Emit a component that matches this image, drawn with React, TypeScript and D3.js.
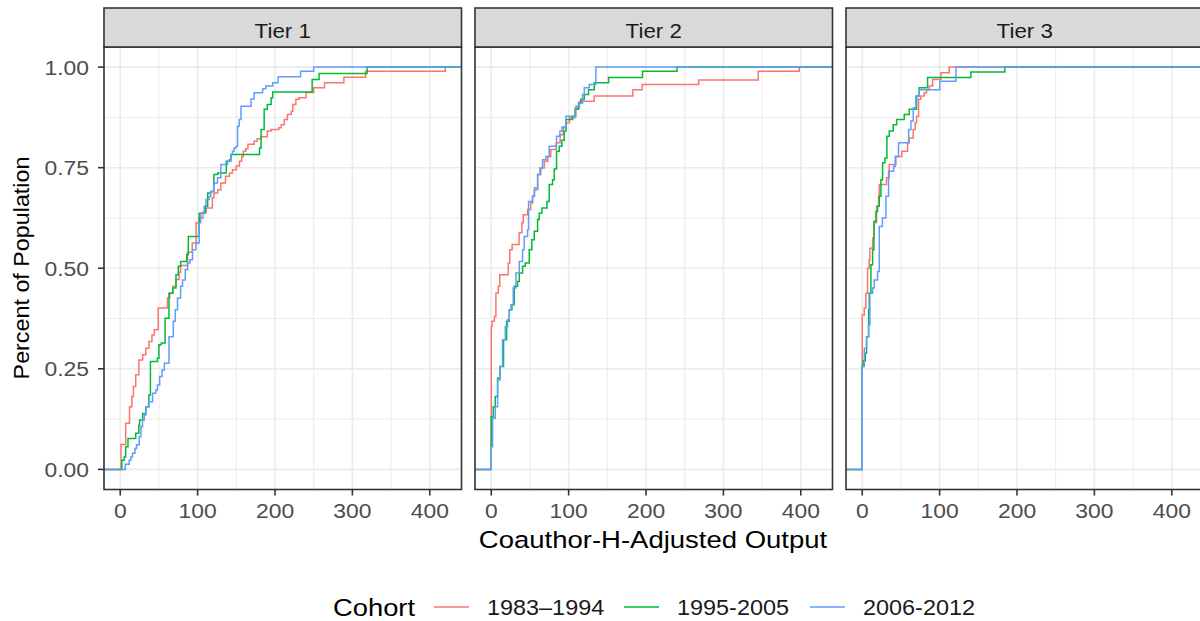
import React from 'react';
import * as d3 from 'd3';

const tierLabels = ['Tier 1', 'Tier 2', 'Tier 3'];
const cohortLabels = ['1983–1994', '1995-2005', '2006-2012'];
const cohortColors = ['#F8766D', '#00BA38', '#619CFF'];
const xTickValues = [0, 100, 200, 300, 400];
const xMinorValues = [50, 150, 250, 350];
const yTickValues = [0, 0.25, 0.5, 0.75, 1];
const yMinorValues = [0.125, 0.375, 0.625, 0.875];

// ecdf steps: [output, share of population after the step]
const tier1Early = [
  [1, 0.062], [7, 0.115], [12, 0.156], [15, 0.181], [17, 0.206], [20, 0.235], [24, 0.272], [29, 0.285],
  [33, 0.301], [37, 0.318], [41, 0.334], [44, 0.347], [49, 0.401], [61, 0.426], [64, 0.438], [68, 0.455],
  [72, 0.472], [76, 0.49], [78, 0.507], [87, 0.54], [93, 0.563], [98, 0.613], [102, 0.625], [107, 0.64],
  [111, 0.65], [119, 0.675], [121, 0.687], [126, 0.695], [130, 0.712], [136, 0.729], [141, 0.737],
  [145, 0.745], [150, 0.754], [154, 0.766], [157, 0.778], [159, 0.791], [162, 0.797], [165, 0.808],
  [173, 0.816], [177, 0.822], [182, 0.827], [190, 0.841], [195, 0.845], [205, 0.849], [208, 0.857],
  [212, 0.87], [216, 0.882], [221, 0.89], [223, 0.907], [227, 0.92], [231, 0.924], [240, 0.937],
  [250, 0.949], [264, 0.961], [289, 0.975], [317, 0.99], [420, 1],
];
const tier1Mid = [
  [2, 0.023], [5, 0.031], [7, 0.056], [10, 0.077], [20, 0.09], [24, 0.11], [25, 0.123], [29, 0.139],
  [33, 0.156], [37, 0.185], [39, 0.268], [48, 0.276], [50, 0.31], [53, 0.314], [58, 0.376], [63, 0.438],
  [68, 0.451], [72, 0.484], [75, 0.505], [78, 0.517], [86, 0.534], [88, 0.579], [102, 0.637],
  [110, 0.654], [113, 0.687], [117, 0.691], [121, 0.733], [126, 0.737], [137, 0.766], [141, 0.77],
  [143, 0.783], [180, 0.799], [182, 0.845], [186, 0.895], [190, 0.907], [195, 0.924], [197, 0.938],
  [248, 0.969], [257, 0.984], [319, 1],
];
const tier1Late = [
  [6.5, 0.013], [11.6, 0.023], [13.8, 0.031], [15.9, 0.04], [19, 0.052], [21, 0.061], [24.5, 0.081],
  [26.7, 0.106], [28.8, 0.123], [31, 0.135], [33.2, 0.156], [36.6, 0.168], [41.8, 0.189], [46, 0.197],
  [48, 0.21], [51, 0.231], [54, 0.247], [57, 0.264], [63, 0.33], [68.5, 0.368], [71, 0.397], [74, 0.426],
  [78, 0.455], [80.5, 0.471], [84, 0.496], [87, 0.513], [90, 0.521], [93.4, 0.546], [97.8, 0.563],
  [102, 0.613], [104, 0.637], [108.5, 0.654], [110.7, 0.671], [115, 0.679], [117, 0.691], [121, 0.712],
  [125.7, 0.725], [130, 0.758], [138.6, 0.766], [143, 0.783], [145, 0.791], [147, 0.799], [150, 0.803],
  [151.6, 0.853], [153.7, 0.87], [156, 0.903], [169, 0.921], [173, 0.936], [184, 0.946], [188, 0.953],
  [197, 0.961], [204, 0.976], [233, 0.99], [250, 1],
];

const tier2Early = [
  [0, 0.355], [1, 0.368], [4, 0.38], [6, 0.438], [9, 0.455], [11, 0.484], [22, 0.513], [24, 0.546],
  [27, 0.559], [36, 0.588], [39.6, 0.613], [41.3, 0.633], [47, 0.646], [51, 0.662], [53.4, 0.679],
  [56, 0.7], [60, 0.733], [64, 0.749], [68.5, 0.766], [73, 0.778], [77, 0.795], [84, 0.812], [89, 0.832],
  [93, 0.849], [97, 0.862], [101, 0.874], [108.5, 0.899], [114, 0.915], [133, 0.928], [183, 0.944],
  [195, 0.957], [268, 0.968], [345, 0.99], [398, 1],
];
const tier2Mid = [
  [0, 0.131], [2.6, 0.156], [5.2, 0.181], [8.2, 0.227], [11.2, 0.256], [15.9, 0.322], [19.8, 0.368],
  [23.3, 0.397], [26.7, 0.409], [29.7, 0.455], [34, 0.467], [36.2, 0.488], [40.5, 0.505], [43.9, 0.513],
  [49.1, 0.546], [52.5, 0.571], [55.6, 0.592], [59.9, 0.621], [62, 0.637], [65.5, 0.65], [72, 0.666],
  [74.9, 0.708], [79.2, 0.72], [81.4, 0.747], [84.4, 0.791], [87.9, 0.803], [91.3, 0.818], [94.3, 0.841],
  [96.5, 0.87], [105.1, 0.878], [108.5, 0.895], [112.8, 0.911], [115.9, 0.92], [120.2, 0.932],
  [125.7, 0.944], [133.1, 0.961], [151.6, 0.974], [195.5, 0.99], [240, 1],
];
const tier2Late = [
  [0, 0.056], [1.7, 0.127], [5.2, 0.156], [8.2, 0.222], [11.2, 0.256], [14.6, 0.322], [18.1, 0.355],
  [21.1, 0.372], [23.3, 0.397], [25.4, 0.409], [28.4, 0.451], [31.9, 0.488], [36.2, 0.517], [40.5, 0.546],
  [42.6, 0.579], [46.9, 0.596], [48.2, 0.666], [53.4, 0.679], [55.6, 0.695], [59.9, 0.733], [62.9, 0.749],
  [66.3, 0.77], [70.6, 0.778], [74.9, 0.803], [84.4, 0.828], [88.7, 0.841], [91.3, 0.851], [96.5, 0.878],
  [109.4, 0.903], [113.7, 0.911], [118, 0.932], [120.2, 0.949], [126.6, 0.957], [135.2, 1],
];

const tier3Early = [
  [0, 0.384], [2.6, 0.401], [4.7, 0.438], [6.9, 0.5], [9, 0.521], [9.9, 0.55], [13.4, 0.575],
  [15.5, 0.613], [18.5, 0.654], [21.1, 0.679], [22, 0.708], [31.4, 0.725], [34.9, 0.758], [43.5, 0.778],
  [51.2, 0.791], [58.6, 0.812], [60.7, 0.824], [65.9, 0.845], [68.5, 0.862], [70.2, 0.878], [72.8, 0.92],
  [75.8, 0.928], [80.1, 0.936], [83.1, 0.944], [86.6, 0.953], [90.9, 0.969], [101.6, 0.986], [112.4, 1],
];
const tier3Mid = [
  [0, 0.256], [1.3, 0.27], [3.9, 0.289], [5.6, 0.33], [8.2, 0.397], [9, 0.438], [11.2, 0.509],
  [13.4, 0.546], [15.1, 0.617], [17.7, 0.641], [19.8, 0.654], [22, 0.679], [24.1, 0.72], [26.3, 0.762],
  [29.3, 0.774], [31.9, 0.828], [34.9, 0.841], [40, 0.857], [44.4, 0.87], [54.3, 0.882], [60.7, 0.895],
  [70.2, 0.928], [73.6, 0.949], [84.4, 0.974], [140.4, 0.988], [184.3, 1],
];
const tier3Late = [
  [0, 0.256], [2.6, 0.301], [5.6, 0.33], [8.2, 0.359], [9.9, 0.438], [13.4, 0.451], [15.5, 0.471],
  [19.8, 0.492], [22, 0.604], [26, 0.625], [30.6, 0.679], [34, 0.741], [40.5, 0.753], [42.6, 0.778],
  [46.9, 0.812], [59.9, 0.845], [62.9, 0.866], [65.9, 0.899], [69.3, 0.928], [73.6, 0.944],
  [100.3, 0.965], [121, 1],
];

const tierSeries = [
  [tier1Early, tier1Mid, tier1Late],
  [tier2Early, tier2Mid, tier2Late],
  [tier3Early, tier3Mid, tier3Late],
];

const W = 1200;
const H = 621;
const panelLeft = 104;
const panelStep = 371;
const panelW = 357.5;
const stripTop = 8;
const panelTop = 47;
const panelBottom = 489.5;
const font = "'Liberation Sans', Arial, sans-serif";

const Label = ({ x, y, size, sx = 1.09, anchor = 'middle', fill = '#4D4D4D', rotate = 0, children }: any) => (
  <text
    transform={`translate(${x},${y}) rotate(${rotate}) scale(${sx},1)`}
    fontSize={size}
    fontFamily={font}
    textAnchor={anchor}
    fill={fill}
  >
    {children}
  </text>
);

export default function App() {
  const x = d3.scaleLinear().domain([-21, 441]).range([0, panelW]);
  const y = d3.scaleLinear().domain([-0.05, 1.05]).range([panelBottom, panelTop]);
  const [xMin, xMax] = x.domain();

  const line = d3
    .line<number[]>()
    .x(d => x(d[0]))
    .y(d => y(d[1]))
    .curve(d3.curveStepAfter);

  const ecdfPath = (steps: number[][]) =>
    line([[xMin, 0], ...steps, [xMax, 1]]) || '';

  return (
    <div style={{ position: 'absolute', left: 0, top: 0 }}>
      <svg width={W} height={H} style={{ display: 'block', background: '#fff' }}>
        <defs>
          <clipPath id="panel-clip">
            <rect x={0} y={panelTop} width={panelW} height={panelBottom - panelTop} />
          </clipPath>
        </defs>

        {tierLabels.map((tier, i) => (
          <g key={tier} transform={`translate(${panelLeft + i * panelStep},0)`}>
            {/* grid */}
            {xMinorValues.map(v => (
              <line key={'xm' + v} x1={x(v)} x2={x(v)} y1={panelTop} y2={panelBottom} stroke="#EBEBEB" strokeWidth={1} />
            ))}
            {yMinorValues.map(v => (
              <line key={'ym' + v} x1={0} x2={panelW} y1={y(v)} y2={y(v)} stroke="#EBEBEB" strokeWidth={1} />
            ))}
            {xTickValues.map(v => (
              <line key={'xg' + v} x1={x(v)} x2={x(v)} y1={panelTop} y2={panelBottom} stroke="#EBEBEB" strokeWidth={1.6} />
            ))}
            {yTickValues.map(v => (
              <line key={'yg' + v} x1={0} x2={panelW} y1={y(v)} y2={y(v)} stroke="#EBEBEB" strokeWidth={1.6} />
            ))}

            {/* ecdf lines */}
            <g clipPath="url(#panel-clip)">
              {tierSeries[i].map((steps, j) => (
                <path key={j} d={ecdfPath(steps)} fill="none" stroke={cohortColors[j]} strokeWidth={1.5} />
              ))}
            </g>

            <rect x={0} y={panelTop} width={panelW} height={panelBottom - panelTop} fill="none" stroke="#333333" strokeWidth={1.6} />

            {/* strip */}
            <rect x={0} y={stripTop} width={panelW} height={panelTop - stripTop} fill="#D9D9D9" stroke="#333333" strokeWidth={1.6} />
            <Label x={panelW / 2} y={37.5} size={20.5} fill="#1A1A1A">{tier}</Label>

            {/* x axis */}
            {xTickValues.map(v => (
              <g key={'xt' + v}>
                <line x1={x(v)} x2={x(v)} y1={panelBottom} y2={panelBottom + 6} stroke="#333333" strokeWidth={1.6} />
                <Label x={x(v)} y={518} size={21}>{v}</Label>
              </g>
            ))}

            {/* y axis on first panel */}
            {i === 0 &&
              yTickValues.map(v => (
                <g key={'yt' + v}>
                  <line x1={-6} x2={0} y1={y(v)} y2={y(v)} stroke="#333333" strokeWidth={1.6} />
                  <Label x={-15} y={y(v) + 7.5} size={21} anchor="end">{v.toFixed(2)}</Label>
                </g>
              ))}
          </g>
        ))}

        {/* axis titles */}
        <Label x={653} y={548} size={23.5} sx={1.17} fill="#000">Coauthor-H-Adjusted Output</Label>
        <Label x={29} y={268} size={22} sx={1.06} fill="#000" rotate={-90}>Percent of Population</Label>

        {/* legend */}
        <Label x={333} y={616} size={24} sx={1.14} fill="#000" anchor="start">Cohort</Label>
        {cohortLabels.map((c, j) => {
          const keyX = [434, 624, 810][j];
          return (
            <g key={c}>
              <line x1={keyX} x2={keyX + 35} y1={607} y2={607} stroke={cohortColors[j]} strokeWidth={1.5} />
              <Label x={keyX + 53} y={615} size={21.5} fill="#1A1A1A" anchor="start">{c}</Label>
            </g>
          );
        })}
      </svg>
    </div>
  );
}
